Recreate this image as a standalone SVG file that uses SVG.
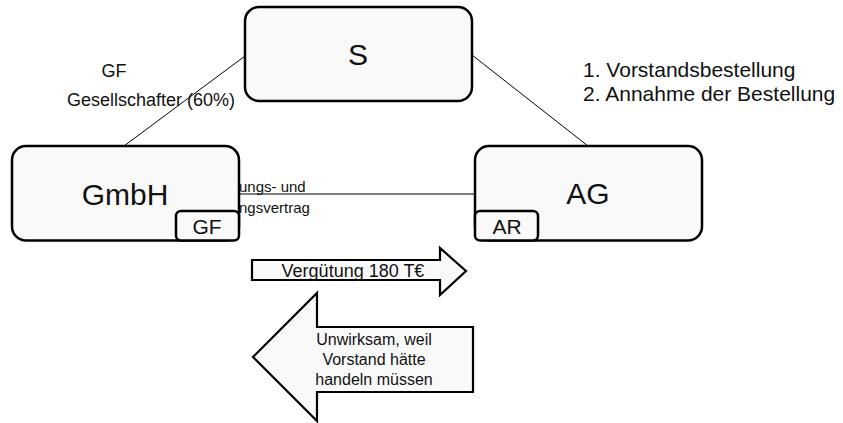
<svg xmlns="http://www.w3.org/2000/svg" width="843" height="423" viewBox="0 0 843 423">
<style>
text{font-family:"Liberation Sans",Arial,sans-serif;fill:#111}
.box{fill:#f9f9f9;stroke:#000;stroke-width:2.5}
.sub{fill:#f9f9f9;stroke:#000;stroke-width:2.5}
.conn{stroke:#000;stroke-width:1;fill:none}
.arrow{fill:#f9f9f9;stroke:#000;stroke-width:2.2;stroke-linejoin:miter}
.big{font-size:30px;text-anchor:middle}
.small{font-size:21px;text-anchor:middle}
</style>
<rect width="843" height="423" fill="#fff"/>
<g id="labels">
<text x="114" y="77" font-size="18" text-anchor="middle">GF</text>
<text x="151" y="106" font-size="18" text-anchor="middle">Gesellschafter (60%)</text>
<text x="583" y="77" font-size="21">1. Vorstandsbestellung</text>
<text x="583" y="101" font-size="21">2. Annahme der Bestellung</text>
</g>
<g id="connectors">
<line class="conn" x1="245" y1="56" x2="124" y2="146"/>
<line class="conn" x1="472" y1="55" x2="588" y2="146"/>
<line class="conn" x1="239" y1="194" x2="475" y2="194"/>
<text x="239" y="192" font-size="15">ungs- und</text>
<text x="239" y="213" font-size="15">ngsvertrag</text>
</g>
<g id="node-S">
<rect class="box" x="245" y="7" width="227" height="94" rx="14"/>
<text class="big" x="358" y="65">S</text>
</g>
<g id="node-GmbH">
<rect class="box" x="12" y="146" width="227" height="94.5" rx="14"/>
<text class="big" x="125" y="205">GmbH</text>
<g id="node-GF">
<rect class="sub" x="176" y="211" width="63" height="29.5" rx="5"/>
<text class="small" x="207" y="234">GF</text>
</g>
</g>
<g id="node-AG">
<rect class="box" x="475" y="146" width="227" height="94.5" rx="14"/>
<text class="big" x="588" y="204">AG</text>
<g id="node-AR">
<rect class="sub" x="475" y="211" width="63" height="29.5" rx="5"/>
<text class="small" x="507" y="234">AR</text>
</g>
</g>
<g id="arrow-right">
<polygon class="arrow" points="252,260 440,260 440,248 466,271 440,295 440,280 252,280"/>
<text x="353" y="277" font-size="18" text-anchor="middle">Vergütung 180 T€</text>
</g>
<g id="arrow-left">
<polygon class="arrow" points="473,327 317,327 317,293 253,357 317,421 317,392 473,392"/>
<text x="374" y="345" font-size="16" text-anchor="middle">Unwirksam, weil</text>
<text x="374" y="365" font-size="16" text-anchor="middle">Vorstand hätte</text>
<text x="374" y="385" font-size="16" text-anchor="middle">handeln müssen</text>
</g>
</svg>
